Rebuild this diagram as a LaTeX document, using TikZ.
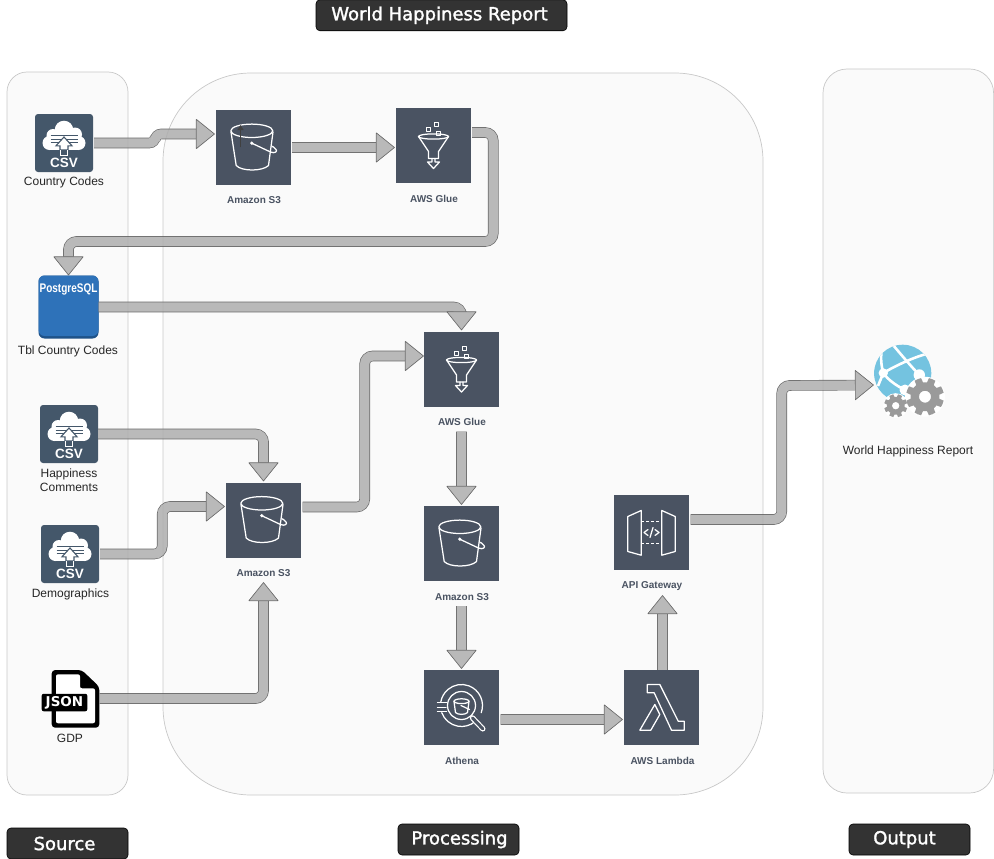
\documentclass[tikz,border=0pt]{standalone}
\usepackage{fontspec}
\setmainfont{Liberation Sans}
\newfontfamily\dejavu[RawFeature={embolden=1.6}]{DejaVu Sans}
\newfontfamily\dejaplain{DejaVu Sans}
\usetikzlibrary{arrows.meta}
\definecolor{awsdark}{HTML}{4A5362}
\definecolor{csvdark}{HTML}{44576A}
\definecolor{pgblue}{HTML}{2E72B9}
\definecolor{pgdeep}{HTML}{1F5288}
\definecolor{poolfill}{HTML}{FAFAFA}
\definecolor{poolline}{HTML}{C8C8C8}
\definecolor{barfill}{HTML}{333333}
\definecolor{flowfill}{HTML}{AEAEAE}
\definecolor{flowline}{HTML}{505050}
\definecolor{globeblue}{HTML}{74C3E0}
\definecolor{geargray}{HTML}{9A9A9A}
\tikzset{
  pool/.style={draw=poolline,fill=poolfill,line width=.7pt},
  bar/.style={draw=black,fill=barfill,rounded corners=4pt,line width=.6pt,text=white,
    minimum width=121pt,minimum height=31pt,inner sep=0pt,font=\dejavu\fontsize{18}{20}\selectfont},
  aws/.style={fill=awsdark,minimum width=75pt,minimum height=75pt,inner sep=0pt},
  csvbox/.style={fill=csvdark,rounded corners=3pt,minimum width=58pt,minimum height=58pt,inner sep=0pt},
  awslabel/.style={text=awsdark,font=\bfseries\fontsize{10}{12}\selectfont,inner sep=0pt},
  srclabel/.style={text=black!85,font=\fontsize{12}{14}\selectfont,inner sep=0pt,align=center},
  icon/.style={draw=white,line width=1.25pt,line join=round,line cap=round},
  flow/.style={draw=flowline,line width=.65pt,double=flowfill,double distance=9.3pt,rounded corners=8pt,
    -{Triangle[length=19pt,width=30.5pt,fill=flowfill,line width=.65pt,color=flowline,round=false]}},
}
\newcommand{\bucketicon}[1]{%
  \begin{scope}[shift={(#1)},icon]
    \draw (-1.7,-16.7) ellipse [x radius=21,y radius=6.7];
    \draw (-22.5,-15.5) -- (-17.3,18) .. controls (-12,24) and (9,24) .. (15,18) -- (19.5,-15.5);
    \fill[white] (-1.7,-4.3) circle (1.8);
    \draw (-1.7,-4.3) -- (17,4.5) .. controls (22,6.5) and (24,3.5) .. (22.5,2) .. controls (21,0) and (19.5,-1) .. (18.5,-1.2);
  \end{scope}}
\newcommand{\glueicon}[1]{%
  \begin{scope}[shift={(#1)},icon]
    \draw (0,-9) ellipse [x radius=15,y radius=2.6];
    \draw (-15,-9) -- (-5,6) -- (-5,13) -- (5,13) -- (5,6) -- (15,-9);
    \draw[line width=1pt] (-7,-18) rectangle (-3,-14);
    \draw[line width=1pt] (0.5,-23) rectangle (4.5,-19);
    \draw[line width=1pt] (2.5,-14.5) rectangle (6.5,-10.5);
    \draw (-1.5,13) -- (-1.5,16.5) -- (-6,16.5) -- (0,23) -- (6,16.5) -- (1.5,16.5) -- (1.5,13);
  \end{scope}}
\newcommand{\athenaicon}[1]{%
  \begin{scope}[shift={(#1)},icon]
    \draw (0,-2) ++(20:21) arc [start angle=20,end angle=-170,radius=21];
    \draw (0,-2) ++(160:21) arc [start angle=160,end angle=50,radius=21];
    \draw (0,-2) circle (14);
    \draw (-7.5,-6) -- (-6,5) .. controls (-4,7.5) and (4,7.5) .. (6,5) -- (7.5,-6);
    \draw (0,-6.3) ellipse [x radius=7.5,y radius=2.4];
    \draw (-.5,-2) -- (8,2);
    \draw[line width=5.4pt] (11,10.5) -- (21.3,21.3);
    \draw[draw=awsdark,line width=3pt] (11,10.5) -- (21.3,21.3);
    \draw (-24,-5) -- (-15,-5) (-24,0) -- (-15.5,0) (-24,4) -- (-15,4);
  \end{scope}}
\newcommand{\lambdaicon}[1]{%
  \begin{scope}[shift={(#1)},icon]
    \draw (-14.3,-23) -- (-1.7,-23) -- (16.7,13.7) -- (22.7,13.7) -- (22.7,22.7) -- (10,22.7) -- (-7.3,-14.7) -- (-14.3,-14.7) -- cycle;
    \draw (-6.7,-3) -- (-21.7,22.7) -- (-10.7,22.7) -- (-1.7,7) -- cycle;
  \end{scope}}
\newcommand{\apiicon}[1]{%
  \begin{scope}[shift={(#1)},icon]
    \draw (-23.7,-16) -- (-10.3,-22) -- (-10.3,22.7) -- (-23.7,19) -- cycle;
    \draw (10.3,-22) -- (23.7,-16) -- (23.7,19) -- (10.3,22.7) -- cycle;
    \draw[densely dashed,line cap=butt] (-10.3,-10.7) -- (10.3,-10.7) (-10.3,10.7) -- (10.3,10.7);
    \draw (-3.5,-3) -- (-7.5,0) -- (-3.5,3) (3.5,-3) -- (7.5,0) -- (3.5,3) (1.5,-5) -- (-1.5,5);
  \end{scope}}
\newcommand{\csvicon}[1]{%
  \begin{scope}[shift={(#1)}]
    \fill[white] (0,-13) circle (9.3) (-14.5,0) circle (7) (14.5,0) circle (7) (-11,-7.5) circle (6.5) (11,-8.5) circle (7);
    \fill[white] (-14.5,-7) rectangle (14.5,7);
    \draw[csvdark,line width=.8pt] (-13.5,-7.3) -- (13.5,-7.3) (-13.5,-4) -- (13.5,-4) (-13.5,-.7) -- (13.5,-.7);
    \draw[csvdark,fill=white,line width=1.1pt,line join=miter] (0,-6) -- (8,2.8) -- (4,2.8) -- (4,7) -- (-4,7) -- (-4,2.8) -- (-8,2.8) -- cycle;
    \draw[white,fill=csvdark,line width=1pt] (-3.6,6.6) -- (-3.6,12.7) -- (3.6,12.7) -- (3.6,6.6);
    \node[text=white,inner sep=0pt,font=\bfseries\fontsize{13.5}{14}\selectfont] at (0,19.5) {CSV};
  \end{scope}}
\newcommand{\cogshape}[2]{% radius, hole
  \fill[even odd rule] (0,0) circle (#2)
    (0:#1*.76)
    \foreach \a in {0,45,...,315} {
      arc [start angle=\a,end angle=\a+8,radius=#1*.76]
      -- (\a+12:#1) arc [start angle=\a+12,end angle=\a+33,radius=#1]
      -- (\a+37:#1*.76) arc [start angle=\a+37,end angle=\a+45,radius=#1*.76]
    } -- cycle;}
\begin{document}
\begin{tikzpicture}[x=1pt,y=-1pt]
\useasboundingbox (0,0) rectangle (994,859);
% pools
\draw[pool,rounded corners=20pt] (7,72) rectangle (128,795);
\draw[pool,rounded corners=88pt] (163,73) rectangle (763,795);
\draw[pool,rounded corners=24pt] (823,69) rectangle (993.6,793);
% bars
\node[bar,minimum width=251pt] (title) at (441.5,15.3) {World Happiness Report\hspace*{4pt}};
\node[bar] (barsrc) at (67.5,843.5) {Source\hspace*{6pt}};
\node[bar] (barproc) at (458.5,839.5) {\hspace*{2pt}Processing};
\node[bar] (barout) at (909.5,839.5) {Output\hspace*{10pt}};
% AWS boxes
\node[aws] (s3a) at (253.5,147.5) {};
\node[aws] (gluea) at (433.5,145.5) {};
\node[aws] (s3b) at (263.5,520) {};
\node[aws] (glueb) at (461.5,369) {};
\node[aws] (s3c) at (461.5,543.5) {};
\node[aws] (athena) at (461.5,707.5) {};
\node[aws] (lambda) at (661.5,707.5) {};
\node[aws] (apigw) at (651.5,532.5) {};
\bucketicon{253.5,147.5}
\draw[-{Triangle[length=5pt,width=6pt]},draw=black!75,fill=black!75,line width=1.2pt] (240.5,147) -- (240.5,125);
\glueicon{433.5,145.5}
\bucketicon{263.5,520}
\glueicon{461.5,369}
\bucketicon{461.5,543.5}
\athenaicon{461.5,707.5}
\lambdaicon{661.5,707.5}
\apiicon{651.5,532.5}
\node[awslabel] (l1) at (254,200.2) {Amazon S3};
\node[awslabel] (l2) at (434,198.7) {AWS Glue};
\node[awslabel] (l3) at (263.5,572.7) {Amazon S3};
\node[awslabel] (l4) at (462,421.7) {AWS Glue};
\node[awslabel] (l5) at (462,596.7) {Amazon S3};
\node[awslabel] (l6) at (462,760.7) {Athena};
\node[awslabel] (l7) at (662.5,760.7) {AWS Lambda};
\node[awslabel] (l8) at (652,585.7) {API Gateway};
% CSV boxes
\node[csvbox] (csva) at (64,143) {};
\node[csvbox] (csvb) at (69,434) {};
\node[csvbox] (csvc) at (70,554) {};
\csvicon{64,143}
\csvicon{69,434}
\csvicon{70,554}
\node[srclabel] (s1) at (64,182.7) {Country Codes};
\node[srclabel] (s2) at (69,480.7) {Happiness\\Comments};
\node[srclabel] (s3) at (70.5,594.7) {Demographics};
\node[srclabel] (s4) at (68,351.7) {Tbl Country Codes};
\node[srclabel] (s5) at (70,738) {GDP};
% PostgreSQL
\node[fill=pgdeep,rounded corners=6pt,minimum width=60pt,minimum height=63pt,inner sep=0pt] (pg) at (68.5,307) {};
\fill[pgblue,rounded corners=6pt] (38.5,275.5) rectangle (98.5,336);
\node[text=white,inner sep=0pt,font=\bfseries\fontsize{12.5}{15}\selectfont,xscale=.8] (pgt) at (68.5,289.5) {PostgreSQL};
% JSON
\node[minimum width=48pt,minimum height=58pt,inner sep=0pt] (json) at (75.5,698.5) {};
\fill[black,rounded corners=3.5pt] (51.7,670) -- (81.7,670) -- (99.3,686.7) -- (99.3,727.7) -- (51.7,727.7) -- cycle;
\fill[white,rounded corners=2pt] (56,674.3) -- (80,674.3) -- (80,688.3) -- (95,688.3) -- (95,723.3) -- (56,723.3) -- cycle;
\node[fill=black,rounded corners=2pt,text=white,inner sep=0pt,minimum width=45.6pt,minimum height=17.5pt,
    font=\dejaplain\bfseries\fontsize{13.5}{14}\selectfont] (jsont) at (64.5,702.5) {JSON};
% web app icon
\node[minimum width=70pt,minimum height=70pt,inner sep=0pt] (webapp) at (909,385) {};
\begin{scope}
  \fill[globeblue] (902.7,373.3) circle (28.6);
  \begin{scope}
    \clip (902.7,373.3) circle (28.6);
    \draw[white,line width=2.6pt]
      (893,345) .. controls (899,352) and (908,363) .. (919.3,375)
      (883.3,373) .. controls (895,366) and (912,358) .. (926,354)
      (883,345) .. controls (880,355) and (881,365) .. (883.3,373)
      (883.3,373) .. controls (888,380) and (897,386) .. (905,390)
      (883.3,373) -- (878,386);
    \fill[white] (919.3,375) circle (5.7) (883.3,373) circle (4.7) (905,390) circle (5.5);
  \end{scope}
  \fill[white] (925,396.7) circle (20) (895.7,405.7) circle (12.5);
  \begin{scope}[shift={(925,396.7)},geargray]
    \cogshape{19}{6}
  \end{scope}
  \begin{scope}[shift={(895.7,405.7)},geargray]
    \cogshape{11.7}{3.8}
  \end{scope}
\end{scope}
\node[srclabel] (webl) at (908,451) {World Happiness Report};
% connectors
\begin{scope}[transparency group,opacity=.85]
\draw[flow,rounded corners=6pt] ([xshift=1pt]csva.east) -- ++(61,0) -- ++(0,-9) -- ([xshift=-1pt,yshift=13.5pt]s3a.west);
\draw[flow] ([xshift=1pt]s3a.east) -- ([xshift=-1pt,yshift=-2pt]gluea.west);
\draw[flow] ([xshift=1pt,yshift=13pt]gluea.east) -- ++(21,0) -- ++(0,109) -| (pg.north);
\draw[flow] (pg.east) -| ([yshift=1pt]glueb.north);
\draw[flow] (csvb.east) -| ([yshift=1pt]s3b.north);
\draw[flow] ([xshift=1pt]csvc.east) -- ++(62,0) -- ++(0,-47.5) -- ([xshift=-1pt,yshift=13.5pt]s3b.west);
\draw[flow] (json.east) -| ([yshift=-24.5pt]s3b.south);
\draw[flow] ([xshift=1.5pt,yshift=13pt]s3b.east) -- ++(62,0) -- ++(0,-151) -- ([yshift=13pt]glueb.west);
\draw[flow] ([yshift=-25pt]glueb.south) -- ([yshift=1pt]s3c.north);
\draw[flow] ([yshift=-25pt]s3c.south) -- ([yshift=1pt]athena.north);
\draw[flow] ([xshift=1.5pt,yshift=-12pt]athena.east) -- ([xshift=-1pt,yshift=-12pt]lambda.west);
\draw[flow] ([xshift=1pt]lambda.north) -- ([xshift=11pt,yshift=-25pt]apigw.south);
\draw[flow] ([xshift=1.5pt,yshift=13pt]apigw.east) -- ++(91,0) -- ++(0,-134) -- (webapp.west);
\end{scope}
\end{tikzpicture}
\end{document}
